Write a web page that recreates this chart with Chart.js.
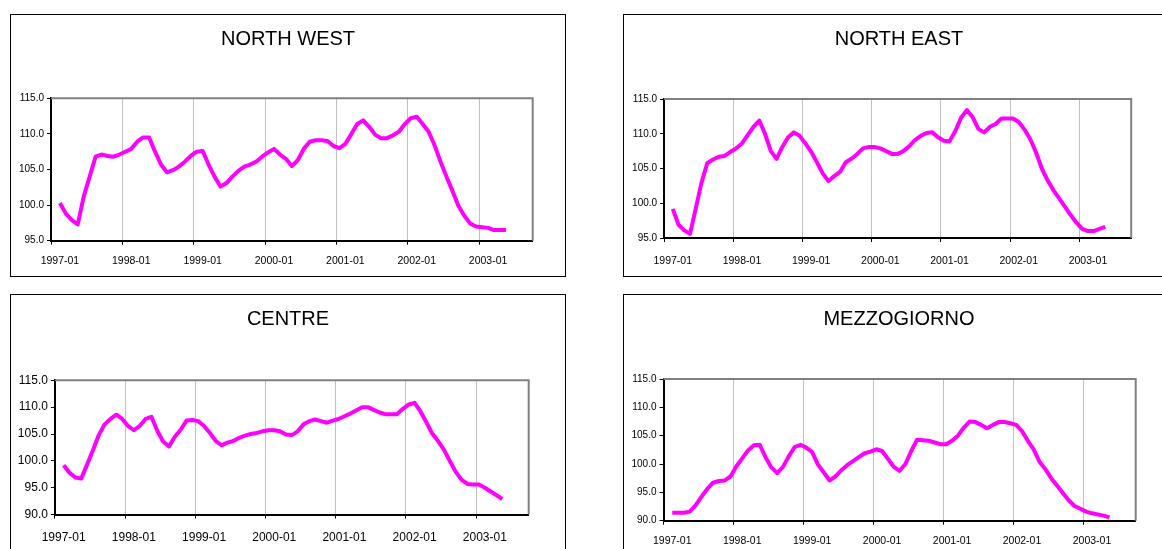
<!doctype html>
<html lang="en">

<head>
    <meta charset="utf-8">
    <title>Regional indices</title>
    <script src="https://cdn.jsdelivr.net/npm/chart.js"></script>
    <style>
        html, body { margin: 0; padding: 0; background: #fff; overflow: hidden; }
        body { width: 1162px; height: 549px; position: relative; }
        .panel { position: absolute; border: 1px solid #000; background: #fff; }
        .panel canvas { display: block; }
    </style>
</head>

<body>
    <div class="panel" id="p-nw"><canvas id="nw"></canvas></div>
    <div class="panel" id="p-ne"><canvas id="ne"></canvas></div>
    <div class="panel" id="p-centre"><canvas id="centre"></canvas></div>
    <div class="panel" id="p-mezz"><canvas id="mezz"></canvas></div>

    <script>
        // axis categories (one per month) and the labels shown under the axis
        const months = [
            '1996-12',
            '1997-01', '1997-02', '1997-03', '1997-04', '1997-05', '1997-06', '1997-07', '1997-08', '1997-09', '1997-10', '1997-11', '1997-12',
            '1998-01', '1998-02', '1998-03', '1998-04', '1998-05', '1998-06', '1998-07', '1998-08', '1998-09', '1998-10', '1998-11', '1998-12',
            '1999-01', '1999-02', '1999-03', '1999-04', '1999-05', '1999-06', '1999-07', '1999-08', '1999-09', '1999-10', '1999-11', '1999-12',
            '2000-01', '2000-02', '2000-03', '2000-04', '2000-05', '2000-06', '2000-07', '2000-08', '2000-09', '2000-10', '2000-11', '2000-12',
            '2001-01', '2001-02', '2001-03', '2001-04', '2001-05', '2001-06', '2001-07', '2001-08', '2001-09', '2001-10', '2001-11', '2001-12',
            '2002-01', '2002-02', '2002-03', '2002-04', '2002-05', '2002-06', '2002-07', '2002-08', '2002-09', '2002-10', '2002-11', '2002-12',
            '2003-01', '2003-02', '2003-03', '2003-04', '2003-05', '2003-06', '2003-07', '2003-08'
        ];
        const yearLabels = ['1997-01', '1998-01', '1999-01', '2000-01', '2001-01', '2002-01', '2003-01'];
        const firstDataMonth = '1997-01';

        const yTicksHigh = [95, 100, 105, 110, 115];
        const yTicksLow = [90, 95, 100, 105, 110, 115];

        // monthly series, 1997-01 .. 2003-04
        const northWest = [
            100.3, 98.8, 97.9, 97.3, 101.2, 104.0, 106.8, 107.1, 106.9, 106.8, 107.1, 107.5,
            107.9, 108.9, 109.5, 109.5, 107.5, 105.7, 104.6, 104.9, 105.4, 106.1, 106.9, 107.5,
            107.6, 105.7, 104.0, 102.6, 103.1, 104.0, 104.8, 105.4, 105.7, 106.1, 106.8, 107.4,
            107.9, 107.1, 106.5, 105.5, 106.3, 107.9, 108.9, 109.1, 109.1, 109.0, 108.3, 108.0,
            108.6, 110.0, 111.4, 111.9, 111.0, 109.9, 109.4, 109.4, 109.8, 110.3, 111.4, 112.2,
            112.4, 111.4, 110.3, 108.4, 106.1, 104.0, 102.0, 99.9, 98.5, 97.4, 97.0, 96.9,
            96.8, 96.5, 96.5, 96.5
        ];
        const northEast = [
            99.2, 96.9, 96.1, 95.6, 99.3, 103.0, 105.8, 106.3, 106.7, 106.8, 107.4, 107.9,
            108.6, 109.8, 111.0, 111.9, 110.0, 107.5, 106.4, 108.1, 109.5, 110.2, 109.7, 108.6,
            107.4, 105.9, 104.3, 103.2, 103.9, 104.5, 105.9, 106.4, 107.1, 107.9, 108.1, 108.1,
            107.9, 107.5, 107.1, 107.1, 107.5, 108.2, 109.1, 109.7, 110.1, 110.2, 109.5, 109.0,
            108.9, 110.4, 112.3, 113.4, 112.4, 110.7, 110.2, 111.0, 111.4, 112.2, 112.2, 112.2,
            111.7, 110.6, 109.2, 107.3, 105.0, 103.3, 101.9, 100.7, 99.5, 98.3, 97.2, 96.3,
            96.0, 96.0, 96.3, 96.6
        ];
        const centre = [
            99.2, 97.8, 96.9, 96.7, 99.3, 102.0, 104.8, 106.8, 107.8, 108.6, 107.8, 106.5,
            105.7, 106.5, 107.8, 108.2, 105.6, 103.6, 102.7, 104.5, 105.8, 107.5, 107.6, 107.4,
            106.5, 105.2, 103.7, 102.9, 103.4, 103.7, 104.3, 104.7, 105.0, 105.2, 105.5, 105.7,
            105.7, 105.5, 104.9, 104.8, 105.5, 106.8, 107.4, 107.7, 107.4, 107.1, 107.5, 107.8,
            108.3, 108.8, 109.4, 110.0, 110.0, 109.5, 109.0, 108.7, 108.7, 108.7, 109.7, 110.5,
            110.8, 109.2, 107.2, 105.1, 103.7, 102.1, 100.0, 98.0, 96.5, 95.7, 95.6, 95.6,
            95.0, 94.3, 93.6, 92.9
        ];
        const mezzogiorno = [
            91.4, 91.4, 91.4, 91.6, 92.7, 94.2, 95.6, 96.7, 97.0, 97.1, 97.8, 99.6,
            101.0, 102.4, 103.3, 103.4, 101.2, 99.4, 98.4, 99.5, 101.4, 103.0, 103.4, 102.9,
            102.1, 99.9, 98.5, 97.1, 97.8, 98.9, 99.8, 100.5, 101.2, 101.9, 102.2, 102.6,
            102.3, 100.9, 99.5, 98.8, 100.0, 102.3, 104.3, 104.2, 104.1, 103.8, 103.5, 103.5,
            104.1, 105.0, 106.4, 107.5, 107.4, 106.9, 106.3, 106.9, 107.4, 107.4, 107.2, 106.9,
            105.8, 104.1, 102.6, 100.4, 99.1, 97.5, 96.2, 94.9, 93.6, 92.6, 92.1, 91.6,
            91.3, 91.1, 90.9, 90.6
        ];

        const FONT = "'Liberation Sans', Arial, sans-serif";

        // draws the grey frame on top and right of the plot area
        const plotFrame = {
            id: 'plotFrame',
            afterDraw(chart) {
                const { ctx, chartArea: a } = chart;
                ctx.save();
                ctx.strokeStyle = '#808080';
                ctx.lineWidth = 2;
                ctx.beginPath();
                ctx.moveTo(a.left, a.top);
                ctx.lineTo(a.right, a.top);
                ctx.lineTo(a.right, a.bottom);
                ctx.stroke();
                ctx.restore();
            }
        };

        function isYearBoundary(i) {
            return i !== undefined && yearLabels.includes(months[i + 1]);
        }

        function drawPanel(id, title, values, yTicks, box) {
            const panel = document.getElementById('p-' + id);
            panel.style.left = box.left + 'px';
            panel.style.top = box.top + 'px';
            panel.style.width = box.w + 'px';
            panel.style.height = box.h + 'px';

            const canvas = document.getElementById(id);
            canvas.width = box.w;
            canvas.height = box.h;

            const start = months.indexOf(firstDataMonth);
            const data = months.map((m, i) =>
                (i >= start && i - start < values.length) ? values[i - start] : null);

            new Chart(canvas, {
                type: 'line',
                data: {
                    labels: months,
                    datasets: [{
                        data: data,
                        borderColor: '#ff00ff',
                        borderWidth: 4,
                        borderJoinStyle: 'round',
                        pointRadius: 0,
                        tension: 0,
                        fill: false
                    }]
                },
                options: {
                    responsive: false,
                    animation: false,
                    events: [],
                    layout: { padding: 0 },
                    plugins: {
                        legend: { display: false },
                        tooltip: { enabled: false },
                        title: {
                            display: true,
                            text: title,
                            color: '#000',
                            font: { family: FONT, size: 20, weight: 'normal' },
                            padding: { top: box.titleTop, bottom: box.titleBottom }
                        }
                    },
                    scales: {
                        x: {
                            type: 'category',
                            offset: true,
                            grid: {
                                offset: true,
                                lineWidth: 1,
                                tickLength: 4,
                                color: ctx => (isYearBoundary(ctx.index) && ctx.index > 0) ? '#c0c0c0' : 'rgba(0,0,0,0)',
                                tickColor: ctx => isYearBoundary(ctx.index) ? '#000' : 'rgba(0,0,0,0)'
                            },
                            border: { color: '#000', width: 2 },
                            ticks: {
                                autoSkip: false,
                                maxRotation: 0,
                                minRotation: 0,
                                padding: box.xPad,
                                color: '#000',
                                font: { family: FONT, size: box.xFont },
                                callback: function (v) {
                                    const m = this.getLabelForValue(v);
                                    return yearLabels.includes(m) ? m : '';
                                }
                            },
                            afterFit: s => { s.height = box.xH; }
                        },
                        y: {
                            min: yTicks[0],
                            max: yTicks[yTicks.length - 1],
                            afterBuildTicks: s => { s.ticks = yTicks.map(v => ({ value: v })); },
                            grid: { drawOnChartArea: false, tickLength: 4, tickColor: '#000' },
                            border: { color: '#000', width: 2 },
                            ticks: {
                                padding: 3,
                                color: '#000',
                                font: { family: FONT, size: box.yFont },
                                callback: v => v.toFixed(1)
                            },
                            afterFit: s => { s.width = box.yW; }
                        },
                        yR: {
                            position: 'right',
                            ticks: { display: false },
                            grid: { display: false },
                            border: { display: false },
                            afterFit: s => { s.width = box.rW; }
                        }
                    }
                },
                plugins: [plotFrame]
            });
        }

        drawPanel('nw', 'NORTH WEST', northWest, yTicksHigh,
            { left: 10, top: 14, w: 554, h: 261, yW: 40, rW: 32.3, xH: 35.3, titleTop: 12, titleBottom: 47.3, xPad: 10, xFont: 10.5, yFont: 10 });
        drawPanel('ne', 'NORTH EAST', northEast, yTicksHigh,
            { left: 623, top: 14, w: 550, h: 261, yW: 40.1, rW: 42.8, xH: 38, titleTop: 12, titleBottom: 48, xPad: 13, xFont: 10.5, yFont: 10 });
        drawPanel('centre', 'CENTRE', centre, yTicksLow,
            { left: 10, top: 294, w: 554, h: 265, yW: 43.9, rW: 36.3, xH: 45.4, titleTop: 12, titleBottom: 49.3, xPad: 12, xFont: 12, yFont: 12 });
        drawPanel('mezz', 'MEZZOGIORNO', mezzogiorno, yTicksLow,
            { left: 623, top: 294, w: 550, h: 265, yW: 39.5, rW: 38.3, xH: 39.3, titleTop: 12, titleBottom: 48, xPad: 10.5, xFont: 10.5, yFont: 10 });
    </script>
</body>

</html>
